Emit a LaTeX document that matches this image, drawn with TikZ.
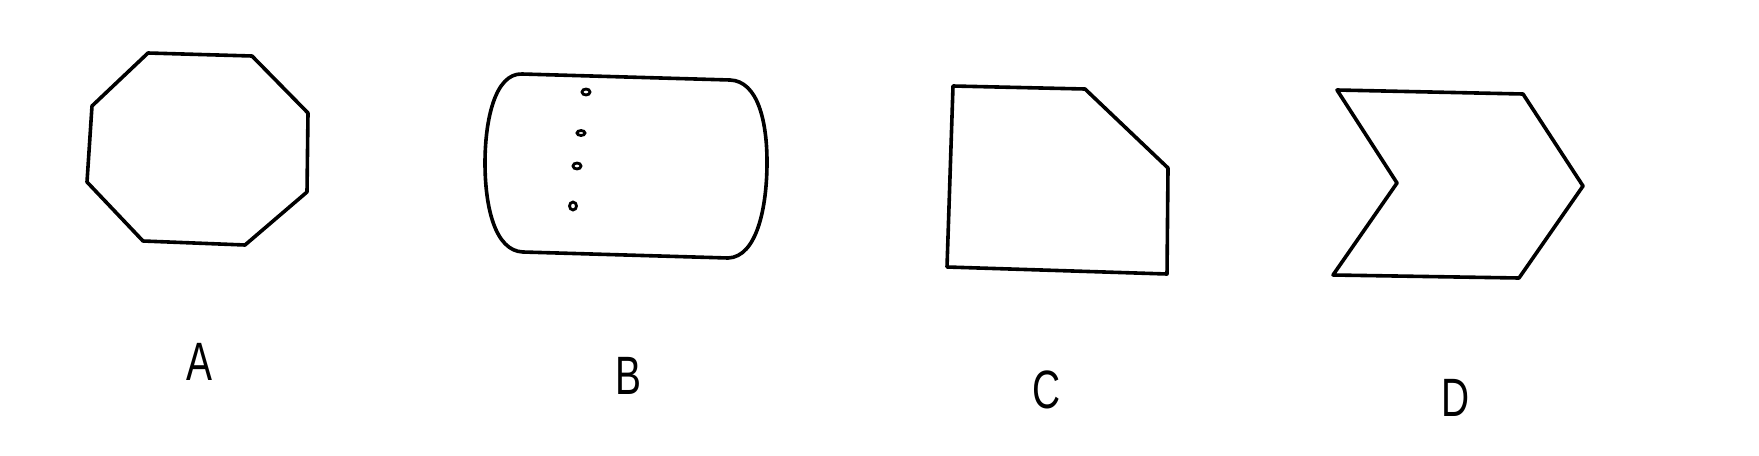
\documentclass[tikz,border=0pt]{standalone}
\usepackage{fontspec}
\setmainfont{Liberation Sans}
\begin{document}
\begin{tikzpicture}[x=0.5pt,y=-0.5pt,
  outl/.style={draw=black,line width=1.8pt,line join=round},
  dotring/.style={draw=black,line width=1.4pt},
  lbl/.style={font=\fontsize{27}{28}\selectfont,xscale=0.72,inner sep=0pt}]
\useasboundingbox (0,0) rectangle (1759,455);
% A octagon
\draw[outl] (148,53) -- (252,56) -- (308,113) -- (307,192) -- (245,245) -- (143,241) -- (87,182) -- (92,106) -- cycle;
% B
\draw[outl] (522,74) -- (730,80)
  .. controls (758,81) and (767,122) .. (767,162)
  .. controls (767,207) and (757,257) .. (728,258)
  -- (523,252)
  .. controls (495,251) and (485,207) .. (485,163)
  .. controls (485,120) and (495,73) .. (522,74);
\draw[dotring] (586,92) ellipse (4 and 3);
\draw[dotring] (581,133) ellipse (4 and 2.5);
\draw[dotring] (577,166) ellipse (4 and 3);
\draw[dotring] (573,206) ellipse (3.5 and 4);
% C
\draw[outl] (953,86) -- (1085,89) -- (1168,168) -- (1167,274) -- (947,267) -- cycle;
% D
\draw[outl] (1337,90) -- (1523,94) -- (1583,186) -- (1519,278) -- (1333,275) -- (1397,183) -- cycle;
% labels
\node[lbl] (la) at (199,362) {A};
\node[lbl] (lb) at (628,376) {B};
\node[lbl] (lc) at (1047,390) {C};
\node[lbl] (ld) at (1456,398) {D};
\end{tikzpicture}
\end{document}
